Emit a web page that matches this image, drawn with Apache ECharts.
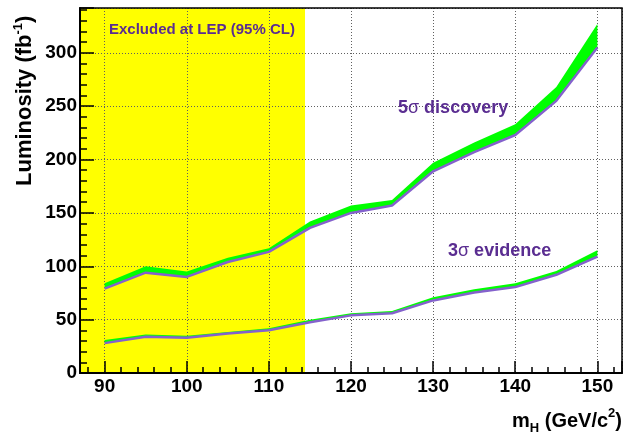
<!DOCTYPE html>
<html>
<head>
<meta charset="utf-8">
<script src="https://cdn.jsdelivr.net/npm/echarts@6/dist/echarts.min.js"></script>
<style>
html, body { margin: 0; padding: 0; background: #fff; }
#chart { width: 635px; height: 436px; }
</style>
</head>
<body>
<div id="chart"></div>
<script>
// Higgs mass points (GeV/c^2)
const massPoints = [90, 95, 100, 105, 110, 115, 120, 125, 130, 135, 140, 145, 150];
// Luminosity needed for a 5 sigma discovery: lower edge and upper edge of the band (fb^-1)
const discoveryLow  = [79, 94, 90, 104, 113.5, 136, 150, 157, 189, 207, 223, 255, 305];
const discoveryHigh = [84, 100, 95, 108, 117, 142, 157, 162, 197, 216, 233, 268, 327];
// Luminosity needed for 3 sigma evidence: lower and upper edge (fb^-1)
const evidenceLow  = [28, 34, 33, 37, 40, 47.5, 54, 56, 68, 75.5, 80.5, 92, 109];
const evidenceHigh = [31, 36, 35, 38.5, 42, 50, 56, 58, 71, 78.5, 84, 95.5, 115];
// LEP exclusion limit on m_H
const lepLimit = 114.4;
// Axis ranges
const xRange = [87, 153];
const yRange = [0, 342];
const yStep = 50;

const FONT = '"Liberation Sans", Arial, Helvetica, sans-serif';
const TEXT_PURPLE = '#5a2d91';
const LINE_PURPLE = '#8462cc';
const BAND_GREEN = '#00ff00';
const GRID_GREY = '#606060';

function bandSeries(name, low, high) {
  return {
    type: 'custom',
    name: name + ' band',
    z: 3,
    silent: true,
    data: massPoints.map((m, i) => [m, low[i], high[i]]),
    encode: { x: 0, y: [1, 2] },
    renderItem(params, api) {
      if (params.dataIndex !== 0) return;
      const pts = [];
      for (let i = 0; i < massPoints.length; i++) pts.push(api.coord([massPoints[i], high[i]]));
      for (let i = massPoints.length - 1; i >= 0; i--) pts.push(api.coord([massPoints[i], low[i]]));
      return { type: 'polygon', shape: { points: pts }, style: { fill: BAND_GREEN } };
    }
  };
}

function edgeLine(name, low) {
  return {
    type: 'line',
    name: name,
    z: 4,
    silent: true,
    symbol: 'none',
    data: massPoints.map((m, i) => [m, low[i]]),
    lineStyle: { color: LINE_PURPLE, width: 2.5 }
  };
}

const chart = echarts.init(document.getElementById('chart'), null, { renderer: 'canvas' });

const tickLabel = { fontSize: 19, fontWeight: 'bold', color: '#000', fontFamily: FONT };

chart.setOption({
  animation: false,
  backgroundColor: '#fff',
  grid: { left: 80, right: 13, top: 8, bottom: 63, show: true, borderColor: '#000', borderWidth: 1.5, z: 2 },
  xAxis: {
    type: 'value', min: xRange[0], max: xRange[1], z: 1,
    axisLine: { lineStyle: { color: '#000', width: 2 } },
    axisTick: { inside: true, length: 12, lineStyle: { color: '#000', width: 1.5 } },
    minorTick: { show: true, splitNumber: 5, length: 6, lineStyle: { color: '#000', width: 1.5 } },
    splitLine: { show: true, lineStyle: { color: GRID_GREY, width: 1, type: [1, 2] } },
    axisLabel: Object.assign({ margin: 4, showMinLabel: false, showMaxLabel: false }, tickLabel)
  },
  yAxis: {
    type: 'value', min: yRange[0], max: yRange[1], interval: yStep, z: 1,
    axisLine: { lineStyle: { color: '#000', width: 2 } },
    axisTick: { inside: true, length: 14, lineStyle: { color: '#000', width: 1.5 } },
    minorTick: { show: true, splitNumber: 5, length: 7, lineStyle: { color: '#000', width: 1.5 } },
    splitLine: { show: true, lineStyle: { color: GRID_GREY, width: 1, type: [1, 2] } },
    axisLabel: Object.assign({ margin: 3, showMaxLabel: false }, tickLabel)
  },
  series: [
    {
      type: 'custom',
      name: 'LEP exclusion',
      z: 0,
      silent: true,
      data: [[lepLimit]],
      encode: { x: 0 },
      renderItem(params, api) {
        const cs = params.coordSys;
        const xr = api.coord([lepLimit, yRange[0]])[0];
        return { type: 'rect', shape: { x: cs.x, y: cs.y, width: xr - cs.x, height: cs.height }, style: { fill: '#ffff00' } };
      }
    },
    bandSeries('5 sigma discovery', discoveryLow, discoveryHigh),
    bandSeries('3 sigma evidence', evidenceLow, evidenceHigh),
    edgeLine('5 sigma discovery', discoveryLow),
    edgeLine('3 sigma evidence', evidenceLow)
  ],
  graphic: [
    {
      type: 'text', x: 25, y: 186, rotation: Math.PI / 2, z: 10,
      style: {
        text: 'Luminosity (fb{sup|-1})',
        font: 'bold 22px ' + FONT, fill: '#000',
        textAlign: 'left', textVerticalAlign: 'middle',
        rich: {
          sup: { fontSize: 13, fontWeight: 'bold', fontFamily: FONT, fill: '#000', verticalAlign: 'top', lineHeight: 26 }
        }
      }
    },
    {
      type: 'text', x: 622, y: 421, z: 10,
      style: {
        text: 'm{sub|H} (GeV/c{sup|2})',
        font: 'bold 20px ' + FONT, fill: '#000',
        textAlign: 'right', textVerticalAlign: 'middle',
        rich: {
          sub: { fontSize: 13, fontWeight: 'bold', fontFamily: FONT, fill: '#000', verticalAlign: 'bottom', lineHeight: 28 },
          sup: { fontSize: 13, fontWeight: 'bold', fontFamily: FONT, fill: '#000', verticalAlign: 'top', lineHeight: 28 }
        }
      }
    },
    {
      type: 'text', x: 109, y: 30, z: 10,
      style: { text: 'Excluded at LEP (95% CL)', font: 'bold 15px ' + FONT, fill: TEXT_PURPLE, textAlign: 'left', textVerticalAlign: 'middle' }
    },
    {
      type: 'text', x: 398, y: 108, z: 10,
      style: {
        text: '5{sig|σ} discovery', font: 'bold 18px ' + FONT, fill: TEXT_PURPLE,
        textAlign: 'left', textVerticalAlign: 'middle',
        rich: { sig: { fontSize: 18, fontWeight: 'normal', fontFamily: FONT, fill: TEXT_PURPLE } }
      }
    },
    {
      type: 'text', x: 448, y: 251, z: 10,
      style: {
        text: '3{sig|σ} evidence', font: 'bold 18px ' + FONT, fill: TEXT_PURPLE,
        textAlign: 'left', textVerticalAlign: 'middle',
        rich: { sig: { fontSize: 18, fontWeight: 'normal', fontFamily: FONT, fill: TEXT_PURPLE } }
      }
    }
  ]
});
</script>
</body>
</html>
